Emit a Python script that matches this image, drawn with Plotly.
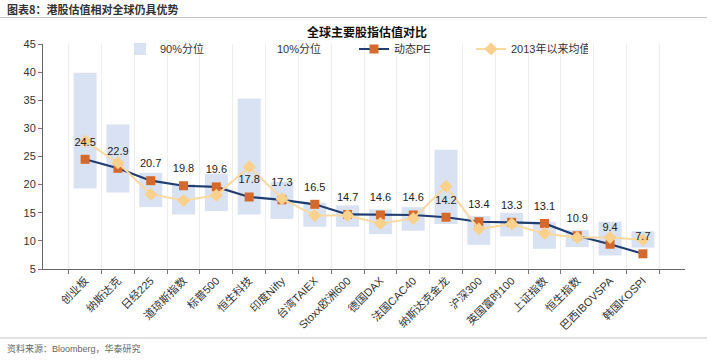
import plotly.graph_objects as go

categories = ["创业板", "纳斯达克", "日经225", "道琼斯指数", "标普500", "恒生科技", "印度Nifty",
              "台湾TAIEX", "Stoxx欧洲600", "德国DAX", "法国CAC40", "纳斯达克金龙", "沪深300",
              "英国富时100", "上证指数", "恒生指数", "巴西IBOVSPA", "韩国KOSPI"]
p90 = [39.9, 30.7, 22.1, 20.1, 21.9, 35.3, 20.5, 16.8, 16.3, 15.6, 16.0, 26.2, 14.4, 15.0, 13.4, 11.9, 13.4, 11.7]
p10 = [19.3, 18.6, 16.0, 14.7, 15.3, 14.7, 13.9, 12.5, 12.5, 11.2, 11.8, 13.0, 9.3, 10.8, 8.6, 8.9, 7.4, 8.8]
pe = [24.5, 22.9, 20.7, 19.8, 19.6, 17.8, 17.3, 16.5, 14.7, 14.6, 14.6, 14.2, 13.4, 13.3, 13.1, 10.9, 9.4, 7.7]
avg = [27.7, 23.9, 18.3, 17.2, 18.1, 23.2, 17.5, 14.5, 14.5, 13.1, 14.0, 19.7, 12.1, 13.0, 11.3, 10.6, 10.6, 10.2]
y_ticks = [5, 10, 15, 20, 25, 30, 35, 40, 45]

W, H = 719, 361
L, R, T, B = 43, 685, 44, 269


def px(x):
    return (x - L) / (R - L)


def py(y):
    return (B - y) / (B - T)


FONT = "Liberation Sans, Arial, Noto Sans CJK SC, sans-serif"

fig = go.Figure()
fig.add_trace(go.Bar(
    x=categories, y=[a - b for a, b in zip(p90, p10)], base=p10, name="90%分位",
    marker=dict(color="#d9e2f2", line=dict(width=0)), width=0.7, hoverinfo="skip", legendrank=1,
))
fig.add_trace(go.Bar(
    x=categories, y=[0] * len(categories), name="10%分位",
    marker=dict(color="rgba(255,255,255,0)", line=dict(width=0)), width=0.7, hoverinfo="skip", legendrank=2,
))
fig.add_trace(go.Scatter(
    x=categories, y=pe, name="动态PE", mode="lines+markers",
    line=dict(color="#1f3d70", width=2.2),
    marker=dict(symbol="square", size=9, color="#d5692b"), legendrank=3,
))
fig.add_trace(go.Scatter(
    x=categories, y=avg, name="2013年以来均值", mode="lines+markers",
    line=dict(color="#fad9a0", width=2),
    marker=dict(symbol="diamond", size=10, color="#f9d08c"), legendrank=4,
))
fig.add_trace(go.Scatter(
    x=categories, y=pe, mode="markers+text", showlegend=False, hoverinfo="skip",
    marker=dict(size=16, color="rgba(0,0,0,0)"),
    text=[f"{v:.1f}" for v in pe], textposition="top center",
    textfont=dict(size=11, color="#222222", family=FONT),
))

fig.update_layout(
    width=W, height=H,
    margin=dict(l=L, r=W - R, t=T, b=H - B, autoexpand=False),
    paper_bgcolor="white", plot_bgcolor="white",
    barmode="overlay",
    font=dict(family=FONT, size=11, color="#333333"),
    showlegend=True,
    legend=dict(orientation="h", x=px(120), y=py(49), xanchor="left", yanchor="middle",
                entrywidth=72, entrywidthmode="pixels", traceorder="normal",
                font=dict(size=11, color="#333333"), bgcolor="rgba(0,0,0,0)", itemwidth=30),
    xaxis=dict(type="category", tickson="boundaries", showgrid=True, gridcolor="#eeeeee", gridwidth=1,
               ticks="outside", ticklen=4, tickcolor="#777777", showline=True, linecolor="#666666",
               linewidth=1, tickangle=-45, tickfont=dict(size=11, color="#333333")),
    yaxis=dict(range=[5, 45], tickvals=y_ticks, showgrid=False, ticks="outside", ticklen=4,
               tickcolor="#777777", showline=True, linecolor="#666666", linewidth=1,
               zeroline=False, tickfont=dict(size=11, color="#333333")),
    shapes=[
        dict(type="line", xref="paper", yref="paper", x0=px(0), x1=px(707), y0=py(17.5), y1=py(17.5),
             line=dict(color="#c4c4c4", width=1)),
        dict(type="line", xref="paper", yref="paper", x0=px(0), x1=px(707), y0=py(338), y1=py(338),
             line=dict(color="#c4c4c4", width=1)),
    ],
    annotations=[
        dict(text="<b>图表8：港股估值相对全球仍具优势</b>", xref="paper", yref="paper", x=px(5), y=py(9),
             xanchor="left", yanchor="middle", showarrow=False,
             font=dict(size=11, color="#333333", family="Noto Sans CJK SC, sans-serif")),
        dict(text="<b>全球主要股指估值对比</b>", xref="paper", yref="paper", x=px(367), y=py(31),
             xanchor="center", yanchor="middle", showarrow=False,
             font=dict(size=12, color="#111111", family="Noto Sans CJK SC, sans-serif")),
        dict(text="资料来源：Bloomberg，华泰研究", xref="paper", yref="paper", x=px(5), y=py(348),
             xanchor="left", yanchor="middle", showarrow=False,
             font=dict(size=9, color="#666666", family=FONT)),
    ],
)

fig.write_html("out.html", config={"displayModeBar": False},
               post_script="document.body.style.margin='0px';")
